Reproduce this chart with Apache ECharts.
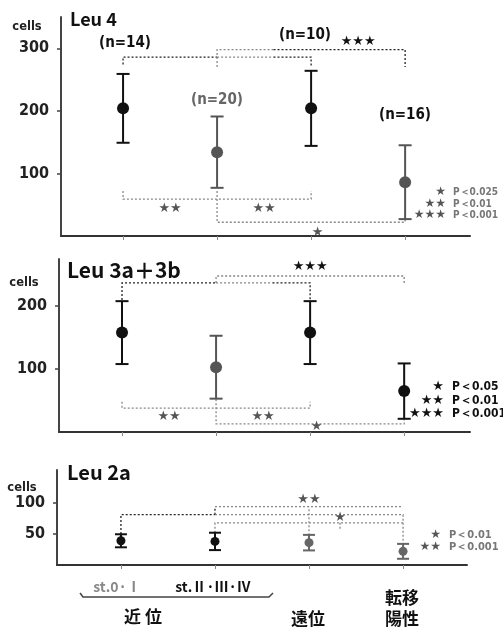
<!DOCTYPE html>
<html><head><meta charset="utf-8">
<script src="https://cdn.jsdelivr.net/npm/echarts@6/dist/echarts.min.js"></script>
<style>html,body{margin:0;padding:0;background:#fff}#c{width:503px;height:627px}</style>
</head><body><div id="c"></div><script>
// ---- data ----
const categories = ['st.0·Ⅰ', 'st.Ⅱ·Ⅲ·Ⅳ', '遠位', '転移陽性'];
const catPos = [1, 2, 3, 4];
const leu4Mean = [204, 134, 204, 86];
const leu4SD = [55, 57, 60, 59];
const leu4N = [14, 20, 10, 16];
const leu3Mean = [158, 103, 158, 65];
const leu3SD = [50, 50, 50, 44];
const leu2Mean = [39, 38, 36, 22];
const leu2SD = [10.5, 14, 12.5, 12];
const leu4Ticks = [100, 200, 300];
const leu3Ticks = [100, 200];
const leu2Ticks = [50, 100];
const leu4PLabels = ['P＜0.025', 'P＜0.01', 'P＜0.001'];
const leu3PLabels = ['P＜0.05', 'P＜0.01', 'P＜0.001'];
const leu2PLabels = ['P＜0.01', 'P＜0.001'];
const starMarks = ['★', '★★', '★★★'];
// significance brackets (data coordinates: category position, cells)
const leu4Brackets = [
  [[1, 274], [1, 286], [2, 286]],
  [[2.6, 286], [3, 286], [3, 270]],
  [[2.6, 298], [4, 298], [4, 270]]
];
const leu4BracketsLight = [
  [[2, 286], [2.6, 286]],
  [[2, 270], [2, 298], [2.6, 298]],
  [[1, 72], [1, 59], [3, 59], [3, 72]],
  [[2, 72], [2, 22], [4, 22], [4, 26]]
];
const leu3Brackets = [
  [[1, 210], [1, 237], [2, 237]],
  [[2.6, 237], [3, 237], [3, 210]]
];
const leu3BracketsLight = [
  [[2, 237], [2.6, 237]],
  [[2, 237], [2, 248], [4, 248], [4, 237]],
  [[1, 48], [1, 38], [3, 38], [3, 48]],
  [[2, 52], [2, 13], [4, 13], [4, 21]]
];
const leu2Brackets = [
  [[1, 50], [1, 81], [2, 81]],
  [[2, 81], [2, 94]]
];
const leu2BracketsLight = [
  [[2, 81], [4, 81], [4, 34]],
  [[2, 94], [4, 94]],
  [[2, 52], [2, 68], [4, 68]],
  [[3, 48], [3, 94]],
  [[3.33, 68], [3.33, 58]]
];
// star annotations: [position, cells, number of stars]
const leu4Stars = [[1.5, 43, 2], [2.5, 43, 2], [3.07, 6, 1]];
const leu4StarsTop = [[3.5, 310, 3]];
const leu3Stars = [[1.5, 24, 2], [2.5, 24, 2], [3.07, 8, 1]];
const leu3StarsTop = [[3.0, 263, 3]];
const leu2Stars = [[3.0, 105, 2], [3.33, 77, 1]];

// ---- styles ----
const leu4Colors = ['#111', '#555', '#111', '#555'];
const leu3Colors = ['#111', '#555', '#111', '#111'];
const leu2Colors = ['#111', '#111', '#666', '#666'];
const numFont = '"DejaVu Sans Condensed","Liberation Sans Narrow",sans-serif';
const titleFont = '"Noto Sans CJK JP","DejaVu Sans",sans-serif';

function errSeries(idx, mean, sd, colors, cap, lw) {
  return {
    type: 'custom', xAxisIndex: idx, yAxisIndex: idx, clip: false, z: 3,
    data: catPos.map((x, i) => [x, mean[i], sd[i]]),
    renderItem: function (params, api) {
      const x = api.value(0), m = api.value(1), s = api.value(2);
      const t = api.coord([x, m + s]), b = api.coord([x, m - s]);
      const c = colors[params.dataIndex];
      const st = { stroke: c, lineWidth: lw };
      return { type: 'group', children: [
        { type: 'line', shape: { x1: t[0], y1: t[1], x2: b[0], y2: b[1] }, style: st },
        { type: 'line', shape: { x1: t[0] - cap, y1: t[1], x2: t[0] + cap, y2: t[1] }, style: st },
        { type: 'line', shape: { x1: b[0] - cap, y1: b[1], x2: b[0] + cap, y2: b[1] }, style: st }
      ]};
    }
  };
}
function meanSeries(idx, mean, colors, size) {
  return {
    type: 'scatter', xAxisIndex: idx, yAxisIndex: idx, z: 4, symbolSize: size,
    data: catPos.map((x, i) => [x, mean[i]]),
    itemStyle: { color: (p) => colors[p.dataIndex], opacity: 1 }
  };
}
function bracketSeries(idx, list, color) {
  return {
    type: 'custom', xAxisIndex: idx, yAxisIndex: idx, clip: false, z: 2, silent: true,
    data: list.map((pts) => pts[0]),
    renderItem: function (params, api) {
      const pts = list[params.dataIndex].map((p) => api.coord(p));
      return { type: 'polyline', shape: { points: pts },
        style: { stroke: color, lineWidth: 1.3, lineDash: [2, 2], fill: null } };
    }
  };
}
function starSeries(idx, list, color, size) {
  return {
    type: 'custom', xAxisIndex: idx, yAxisIndex: idx, clip: false, z: 5, silent: true,
    data: list,
    renderItem: function (params, api) {
      const p = api.coord([api.value(0), api.value(1)]);
      return { type: 'text', x: p[0], y: p[1],
        style: { text: starMarks[api.value(2) - 1], fill: color, font: size + 'px "DejaVu Sans"', align: 'center', verticalAlign: 'middle' } };
    }
  };
}
function yAxis(idx, max, ticks) {
  return {
    type: 'value', gridIndex: idx, min: 0, max: max,
    axisLine: { show: true, lineStyle: { color: '#444', width: 2 } },
    axisTick: { show: true, length: 4, customValues: ticks, lineStyle: { color: '#444', width: 1.5 } },
    axisLabel: { customValues: ticks, margin: 12, fontFamily: numFont, fontWeight: 'bold', fontSize: 16, color: '#222' },
    splitLine: { show: false }
  };
}
function xAxis(idx, min, max) {
  return {
    type: 'value', gridIndex: idx, min: min, max: max,
    axisLine: { show: true, onZero: false, lineStyle: { color: '#333', width: 2 } },
    axisTick: { show: true, length: 4, customValues: catPos, lineStyle: { color: '#888', width: 1 } },
    axisLabel: { show: false },
    splitLine: { show: false }
  };
}
function txt(x, y, text, size, color, opts) {
  return Object.assign({ type: 'text', x: x, y: y, silent: true,
    style: Object.assign({ text: text, fill: color, align: 'center', verticalAlign: 'middle',
      font: size + 'px "DejaVu Sans",sans-serif' }, opts || {}) });
}

const graphics = [
  txt(70, 19, 'Leu 4', 18, '#111', { align: 'left', font: 'bold 18px ' + titleFont }),
  txt(27, 27, 'cells', 11, '#222', { font: 'bold 11.5px "DejaVu Sans"' }),
  txt(125, 43, '(n=' + leu4N[0] + ')', 15, '#111', { font: 'bold 15px ' + numFont }),
  txt(217, 100, '(n=' + leu4N[1] + ')', 15, '#666', { font: 'bold 15px ' + numFont }),
  txt(305, 35, '(n=' + leu4N[2] + ')', 15, '#111', { font: 'bold 15px ' + numFont }),
  txt(405, 115, '(n=' + leu4N[3] + ')', 15, '#111', { font: 'bold 15px ' + numFont }),
  txt(67, 270, 'Leu 3a＋3b', 21, '#111', { align: 'left', font: 'bold 21px ' + titleFont }),
  txt(24, 283, 'cells', 11, '#222', { font: 'bold 11.5px "DejaVu Sans"' }),
  txt(67, 472, 'Leu 2a', 20, '#111', { align: 'left', font: 'bold 20px ' + titleFont }),
  txt(22, 488, 'cells', 11, '#222', { font: 'bold 11.5px "DejaVu Sans"' }),
  txt(117, 587, categories[0], 14, '#888', { font: 'bold 14px "Noto Sans CJK JP"' }),
  txt(213, 587, categories[1], 14, '#111', { font: 'bold 14px "Noto Sans CJK JP"' }),
  { type: 'polyline', silent: true, shape: { points: [[80, 593], [83, 597], [269, 597], [273, 593]] },
    style: { stroke: '#444', lineWidth: 1.5, fill: null } },
  txt(143, 617, '近 位', 17, '#111', { font: 'bold 17px "Noto Sans CJK JP"' }),
  txt(308, 619, categories[2], 17, '#111', { font: 'bold 17px "Noto Sans CJK JP"' }),
  txt(402, 598, categories[3].slice(0, 2), 17, '#111', { font: 'bold 17px "Noto Sans CJK JP"' }),
  txt(402, 619, categories[3].slice(2), 17, '#111', { font: 'bold 17px "Noto Sans CJK JP"' })
];
// P-value keys
const leu4KeyY = [192, 204, 215];
leu4PLabels.forEach((t, i) => {
  graphics.push(txt(446, leu4KeyY[i], starMarks[i], 12, '#555', { align: 'right' }));
  graphics.push(txt(453, leu4KeyY[i], t, 10, '#777', { align: 'left', font: 'bold 10px ' + numFont }));
});
const leu3KeyY = [387, 401, 414];
leu3PLabels.forEach((t, i) => {
  graphics.push(txt(444, leu3KeyY[i], starMarks[i], 13, '#111', { align: 'right' }));
  graphics.push(txt(452, leu3KeyY[i], t, 12, '#111', { align: 'left', font: 'bold 12px ' + numFont }));
});
const leu2KeyY = [535, 547];
leu2PLabels.forEach((t, i) => {
  graphics.push(txt(441, leu2KeyY[i], starMarks[i], 12, '#555', { align: 'right' }));
  graphics.push(txt(449, leu2KeyY[i], t, 11, '#777', { align: 'left', font: 'bold 11px ' + numFont }));
});

const chart = echarts.init(document.getElementById('c'), null, { renderer: 'canvas' });
chart.setOption({
  backgroundColor: '#fff',
  animation: false,
  grid: [
    { left: 61, top: 17, width: 409, height: 219 },
    { left: 59, top: 259, width: 411, height: 173 },
    { left: 57, top: 470, width: 410, height: 95 }
  ],
  xAxis: [xAxis(0, 0.34, 4.69), xAxis(1, 0.33, 4.70), xAxis(2, 0.32, 4.68)],
  yAxis: [yAxis(0, 350, leu4Ticks), yAxis(1, 275, leu3Ticks), yAxis(2, 153, leu2Ticks)],
  series: [
    bracketSeries(0, leu4Brackets, '#222'),
    bracketSeries(0, leu4BracketsLight, '#888'),
    errSeries(0, leu4Mean, leu4SD, leu4Colors, 6.5, 2),
    meanSeries(0, leu4Mean, leu4Colors, 12),
    starSeries(0, leu4Stars, '#555', 13),
    starSeries(0, leu4StarsTop, '#111', 13),
    bracketSeries(1, leu3Brackets, '#222'),
    bracketSeries(1, leu3BracketsLight, '#888'),
    errSeries(1, leu3Mean, leu3SD, leu3Colors, 6.5, 2),
    meanSeries(1, leu3Mean, leu3Colors, 12),
    starSeries(1, leu3Stars, '#555', 13),
    starSeries(1, leu3StarsTop, '#111', 13),
    bracketSeries(2, leu2Brackets, '#222'),
    bracketSeries(2, leu2BracketsLight, '#888'),
    errSeries(2, leu2Mean, leu2SD, leu2Colors, 6, 2),
    meanSeries(2, leu2Mean, leu2Colors, 9),
    starSeries(2, leu2Stars, '#555', 13)
  ],
  graphic: graphics
});
</script></body></html>
